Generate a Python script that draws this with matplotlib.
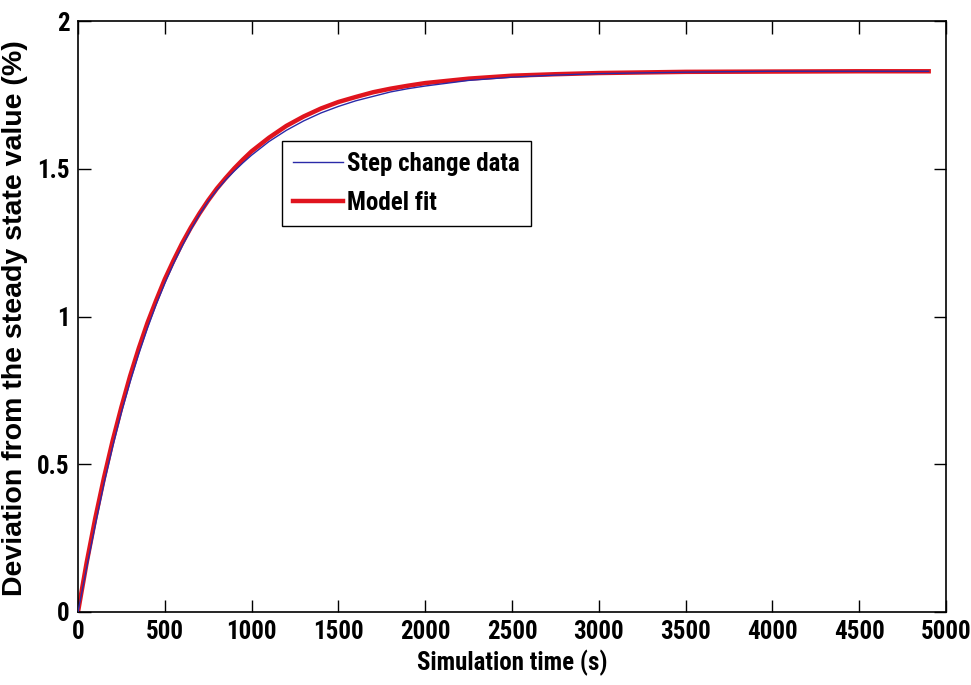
import matplotlib
matplotlib.use("Agg")
import matplotlib.pyplot as plt

# Data
time_data = [0, 50, 100, 150, 200, 250, 300, 350, 400, 450, 500, 550, 600, 650, 700, 750,
             800, 850, 900, 950, 1000, 1100, 1200, 1300, 1400, 1500, 1600, 1700, 1800,
             1900, 2000, 2250, 2500, 2750, 3000, 3500, 4000, 4500, 4900]
step_data = [0.0, 0.150, 0.295, 0.435, 0.560, 0.675, 0.778, 0.873, 0.960, 1.040, 1.112,
             1.178, 1.238, 1.294, 1.345, 1.390, 1.428, 1.462, 1.492, 1.520, 1.546, 1.592,
             1.630, 1.662, 1.689, 1.711, 1.730, 1.745, 1.760, 1.771, 1.780, 1.799, 1.810,
             1.817, 1.822, 1.827, 1.830, 1.830, 1.830]
model_fit = [0.0, 0.167, 0.318, 0.455, 0.580, 0.693, 0.798, 0.892, 0.978, 1.054, 1.126,
             1.189, 1.248, 1.301, 1.349, 1.393, 1.433, 1.468, 1.501, 1.531, 1.559, 1.605,
             1.645, 1.677, 1.704, 1.726, 1.743, 1.759, 1.771, 1.781, 1.790, 1.805, 1.815,
             1.820, 1.824, 1.828, 1.829, 1.830, 1.830]
x_ticks = [0, 500, 1000, 1500, 2000, 2500, 3000, 3500, 4000, 4500, 5000]
y_ticks = [0, 0.5, 1, 1.5, 2]
y_ticklabels = ["0", "0.5", "1", "1.5", "2"]

narrow = ["Roboto Condensed", "Archivo Narrow", "DejaVu Sans"]
wide = ["Liberation Sans", "DejaVu Sans"]

fig = plt.figure(figsize=(9.71, 6.85), dpi=100)
ax = fig.add_axes([0.0803, 0.1066, 0.894, 0.8627])

ax.plot(time_data, model_fit, color="#e0141e", lw=3.2, label="Model fit", zorder=2)
ax.plot(time_data, step_data, color="#2a2aa8", lw=1.0, label="Step change data", zorder=3)

ax.set_xlim(0, 5000)
ax.set_ylim(0, 2)
ax.set_xticks(x_ticks)
ax.set_xticklabels([str(v) for v in x_ticks], family=narrow, fontweight="bold", fontsize=18)
ax.set_yticks(y_ticks)
ax.set_yticklabels(y_ticklabels, family=narrow, fontweight="bold", fontsize=18)
ax.tick_params(direction="in", length=9, width=1, top=True, right=True, pad=6, colors="black")
for s in ax.spines.values():
    s.set_linewidth(1.2)

ax.set_xlabel("Simulation time (s)", family=narrow, fontweight="bold", fontsize=18)
ax.xaxis.set_label_coords(0.5, -0.064)
ax.set_ylabel("Deviation from the steady state value (%)", family=wide, fontweight="bold",
              fontsize=20.5)
ax.yaxis.set_label_coords(-0.058, 0.497)

handles, labels = ax.get_legend_handles_labels()
order = [1, 0]
leg = ax.legend([handles[i] for i in order], [labels[i] for i in order],
                loc="upper left", bbox_to_anchor=(0.235, 0.797),
                prop={"family": narrow, "weight": "bold", "size": 18},
                frameon=True, fancybox=False, edgecolor="black", framealpha=1,
                handlelength=2.0, handletextpad=0.15, borderpad=0.45, labelspacing=0.6,
                borderaxespad=0)
leg.get_frame().set_linewidth(1.0)

fig.savefig("out.png", dpi=100)
